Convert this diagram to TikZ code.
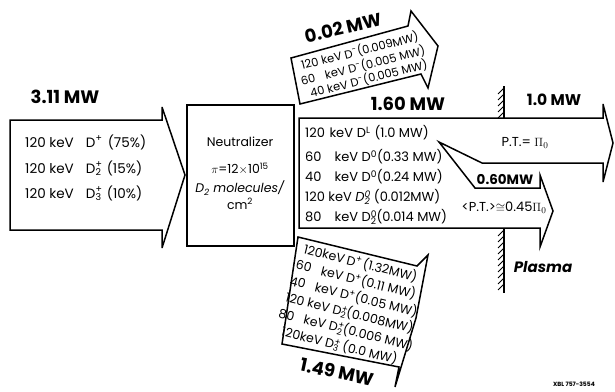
\documentclass[tikz,border=0pt]{standalone}
\usepackage{fontspec}
\setmainfont{Poppins}
\newcommand\Dsp[2]{D\ifx\relax#2\relax\textsuperscript{#1}\else\rlap{\textsuperscript{#1}}\textsubscript{#2}\fi}
\begin{document}
\begin{tikzpicture}[x=1pt,y=-1pt,
  outline/.style={draw, line width=1.5pt, line join=miter, miter limit=6},
  lbl/.style={inner sep=0pt, anchor=west, font=\fontsize{13}{14}\selectfont},
  inl/.style={inner sep=0pt, anchor=west, font=\fontsize{13.5}{15}\selectfont},
  tsm/.style={inner sep=0pt, font=\fontsize{11.5}{13}\selectfont},
  bsm/.style={inner sep=0pt, font=\fontsize{12.5}{14}\selectfont},
  ctr/.style={inner sep=0pt, font=\fontsize{12.5}{14}\selectfont},
  big/.style={inner sep=0pt, font=\fontsize{18}{20}\selectfont\bfseries},
  mid/.style={inner sep=0pt, font=\fontsize{15.5}{17}\selectfont\bfseries},
  hatch/.style={line width=0.8pt}]
\useasboundingbox (0,0) rectangle (615,391);

% ---------- input beam arrow ----------
\coordinate (i1) at (10,120);
\coordinate (i2) at (162,120);
\coordinate (i3) at (162,107);
\coordinate (i4) at (185,175);
\coordinate (i5) at (162,248);
\coordinate (i6) at (162,230);
\coordinate (i7) at (10,230);
\draw[outline] (i1) -- (i2) -- (i3) -- (i4) -- (i5) -- (i6) -- (i7) -- cycle;
\node[big] (p311) at (65,97) {3.11 MW};
\node[inl] (in1) at (25,142) {120 keV\hspace{0.9em}\Dsp{+}{}\hspace{0.4em}(75\%)};
\node[inl] (in2) at (25,168) {120 keV\hspace{0.9em}\Dsp{+}{2}\hspace{0.4em}(15\%)};
\node[inl] (in3) at (25,193) {120 keV\hspace{0.9em}\Dsp{+}{3}\hspace{0.4em}(10\%)};

% ---------- neutralizer ----------
\node[draw, line width=1.5pt, minimum width=107pt, minimum height=141pt, inner sep=0pt] (neut) at (240.5,175.5) {};
\node[ctr] (n1) at (240,142) {Neutralizer};
\node[ctr] (n2) at (240,169) {$\pi$=12$\times$10\textsuperscript{15}};
\node[ctr] (n3) at (240,188) {\textit{D\textsubscript{2} molecules/}};
\node[ctr] (n4) at (240,204) {cm\textsuperscript{2}};

% ---------- top (negative ion) arrow ----------
\coordinate (t1) at (291,58);
\coordinate (t2) at (408,26);
\coordinate (t3) at (411,11);
\coordinate (t4) at (438,46);
\coordinate (t5) at (428,88);
\coordinate (t6) at (421,74);
\coordinate (t7) at (300,104);
\draw[outline] (t1) -- (t2) -- (t3) -- (t4) -- (t5) -- (t6) -- (t7) -- cycle;
\node[big] (p002) at (343,28) {\rotatebox{13}{0.02 MW}};
\node[tsm] (tn1) at (359.8,51.1) {\rotatebox{14}{120 keV \Dsp{-}{}(0.009MW)}};
\node[tsm] (tn2) at (363,65.8) {\rotatebox{14}{60\hspace{0.9em}keV \Dsp{-}{}(0.005 MW)}};
\node[tsm] (tn3) at (368.8,78.7) {\rotatebox{14}{40 keV \Dsp{-}{}(0.005 MW)}};

% ---------- main neutral arrow with split ----------
\coordinate (m1) at (299,118);
\coordinate (m2) at (603,118);
\coordinate (m3) at (603,104);
\coordinate (m4) at (613,143);
\coordinate (m5) at (603,182);
\coordinate (m6) at (603,163);
\coordinate (m7) at (482,163);
\coordinate (sp) at (439,142);
\coordinate (m8) at (475,188);
\coordinate (m9) at (540,188);
\coordinate (m10) at (540,175);
\coordinate (m11) at (553,211);
\coordinate (m12) at (540,247);
\coordinate (m13) at (540,228);
\coordinate (m14) at (299,228);
\draw[outline] (m1) -- (m2) -- (m3) -- (m4) -- (m5) -- (m6) -- (m7) -- (sp)
   -- (m8) -- (m9) -- (m10) -- (m11) -- (m12) -- (m13) -- (m14) -- cycle;
\node[big] (p160) at (408,104) {1.60 MW};
\node[lbl] (mn1) at (305,133) {120\hspace{0.35em}keV\hspace{0.3em}\Dsp{L}{}\hspace{0.3em}(1.0 MW)};
\node[lbl] (mn2) at (305,157) {60\hspace{1.0em}keV \Dsp{0}{}(0.33 MW)};
\node[lbl] (mn3) at (305,177) {40\hspace{1.0em}keV \Dsp{0}{}(0.24 MW)};
\node[lbl] (mn4) at (305,197) {120 keV \textit{\Dsp{0}{2}} (0.012MW)};
\node[lbl] (mn5) at (305,217) {80\hspace{1.0em}keV \Dsp{0}{2}(0.014 MW)};
\node[mid] (p10) at (554,100) {1.0 MW};
\node[inner sep=0pt, font=\fontsize{13}{14}\selectfont] (pt) at (525,143) {P.T.= $\Pi_0$};
\node[inner sep=0pt, font=\fontsize{13.5}{15}\selectfont\bfseries] (p060) at (505,180) {0.60MW};
\node[inner sep=0pt, font=\fontsize{13}{14}\selectfont] (pt2) at (504,208) {<P.T.>$\cong$0.45$\Pi_0$};

% ---------- plasma wall ----------
\coordinate (w1) at (504,86);
\coordinate (w2) at (504,118);
\coordinate (w3) at (504,228);
\coordinate (w4) at (504,293);
\draw[line width=1.3pt] (w1) -- (w2);
\draw[line width=1.3pt] (w3) -- (w4);
\foreach \y in {88,94,...,114} \draw[hatch] (498,\y+6) -- (504,\y);
\foreach \y in {230,236,...,287} \draw[hatch] (498,\y+6) -- (504,\y);
\node[inner sep=0pt, font=\fontsize{15}{17}\selectfont\bfseries\itshape] (plasma) at (543,267) {Plasma};

% ---------- bottom (positive ion) arrow ----------
\coordinate (b1) at (298,237);
\coordinate (b2) at (417,266);
\coordinate (b3) at (428,255);
\coordinate (b4) at (416,318);
\coordinate (b5) at (395,387);
\coordinate (b6) at (399,367);
\coordinate (b7) at (282,344);
\draw[outline] (b1) -- (b2) -- (b3) -- (b4) -- (b5) -- (b6) -- (b7) -- cycle;
\node[bsm] (bn1) at (360.6,262.9) {\rotatebox{-14}{120keV\hspace{0.2em}\Dsp{+}{}\hspace{0.1em}(1.32MW)}};
\node[bsm] (bn2) at (356,279.3) {\rotatebox{-14}{60\hspace{0.8em}keV \Dsp{+}{}(0.11 MW)}};
\node[bsm] (bn3) at (353.8,296.3) {\rotatebox{-14}{40\hspace{0.8em}keV \Dsp{+}{}(0.05 MW)}};
\node[bsm] (bn4) at (349.6,312.8) {\rotatebox{-14}{120 keV \Dsp{+}{2}(0.008MW)}};
\node[bsm] (bn5) at (346,329.4) {\rotatebox{-14}{80\hspace{0.8em}keV \Dsp{+}{2}(0.006 MW)}};
\node[bsm] (bn6) at (339.5,345.3) {\rotatebox{-14}{120keV \Dsp{+}{3} (0.0 MW)}};
\node[big] (p149) at (337,372) {\rotatebox{-12}{1.49 MW}};

% ---------- figure number ----------
\node[inner sep=0pt, font=\fontsize{6}{7}\selectfont\bfseries] (xbl) at (574,384) {XBL 757-3554};
\end{tikzpicture}
\end{document}
